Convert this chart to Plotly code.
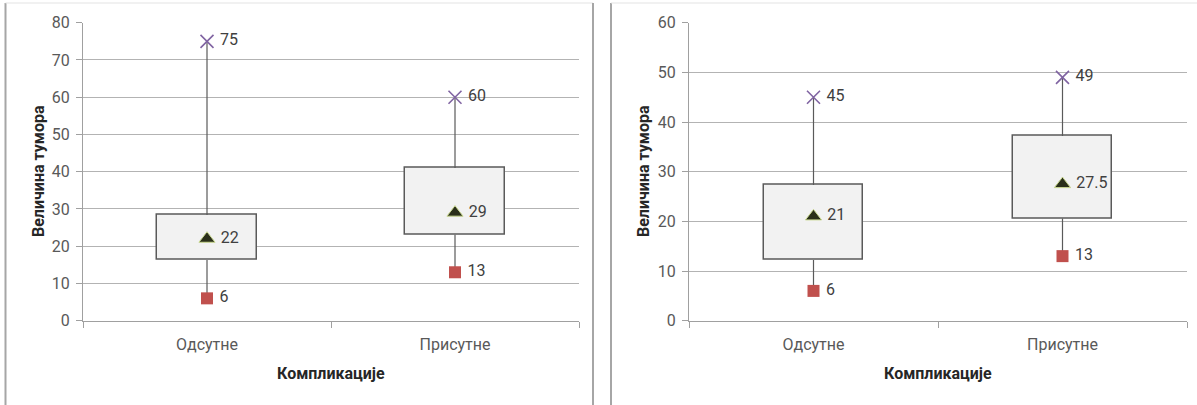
import plotly.graph_objects as go

categories = ["Одсутне", "Присутне"]

# left chart
left_q1 = [16.3, 23.1]
left_q3 = [28.4, 41.0]
left_min = [6, 13]
left_max = [75, 60]
left_mid = [22, 29]

# right chart
right_q1 = [12.2, 20.6]
right_q3 = [27.3, 37.2]
right_min = [6, 13]
right_max = [45, 49]
right_mid = [21, 27.5]

y_title = "Величина тумора"
x_title = "Компликације"

FONT = "Roboto, Noto Sans, sans-serif"
W, H = 1197, 405
TICK_COL = "#595959"
TEXT_COL = "#404040"
NB = "\u00a0"

fig = go.Figure()


def add_chart(xa, ya, q1, q3, mn, mx, mid):
    xref = "x" if xa == "xaxis" else "x2"
    yref = "y" if ya == "yaxis" else "y2"
    # box body
    fig.add_trace(go.Bar(
        x=categories, y=[b - a for a, b in zip(q1, q3)], base=q1, width=0.4,
        marker=dict(color="#F2F2F2", line=dict(color="#5A5A5A", width=1.5)),
        xaxis=xref, yaxis=yref, showlegend=False, hoverinfo="skip"))
    # whiskers
    wx, wy = [], []
    for c, a, b, lo, hi in zip(categories, q1, q3, mn, mx):
        wx += [c, c, None, c, c, None]
        wy += [lo, a, None, b, hi, None]
    fig.add_trace(go.Scatter(
        x=wx, y=wy, mode="lines", line=dict(color="#5A5A5A", width=1.2),
        xaxis=xref, yaxis=yref, showlegend=False, hoverinfo="skip"))
    lab_font = dict(family=FONT, size=16, color=TEXT_COL)
    # max
    fig.add_trace(go.Scatter(
        x=categories, y=mx, mode="markers+text", text=[f"{NB}{v:g}" for v in mx],
        textposition="middle right", textfont=lab_font,
        marker=dict(symbol="x-thin", size=13, line=dict(color="#8064A2", width=1.6)),
        xaxis=xref, yaxis=yref, showlegend=False, cliponaxis=False))
    # min
    fig.add_trace(go.Scatter(
        x=categories, y=mn, mode="markers+text", text=[f"{NB}{v:g}" for v in mn],
        textposition="middle right", textfont=lab_font,
        marker=dict(symbol="square", size=12, color="#C0504D", line=dict(width=0)),
        xaxis=xref, yaxis=yref, showlegend=False, cliponaxis=False))
    # middle
    fig.add_trace(go.Scatter(
        x=categories, y=mid, mode="markers+text", text=[f"{NB}{v:g}" for v in mid],
        textposition="middle right", textfont=lab_font,
        marker=dict(symbol="triangle-up", size=14, color="#2A2F1A",
                    line=dict(color="#C9D88F", width=1)),
        xaxis=xref, yaxis=yref, showlegend=False, cliponaxis=False))


add_chart("xaxis", "yaxis", left_q1, left_q3, left_min, left_max, left_mid)
add_chart("xaxis2", "yaxis2", right_q1, right_q3, right_min, right_max, right_mid)

y0 = 1 - 320.7 / H
y1 = 1 - 22.7 / H

xcommon = dict(type="category", categoryorder="array", categoryarray=categories,
               range=[-0.5, 1.5], tickson="boundaries", ticks="outside", ticklen=6,
               tickcolor="#A0A0A0", showline=True, linecolor="#A0A0A0", linewidth=1.2,
               showgrid=False, zeroline=False, fixedrange=True, ticklabelstandoff=9,
               tickfont=dict(family=FONT, size=16, color=TICK_COL), automargin=False)
ycommon = dict(ticks="outside", ticklen=6, tickcolor="#A0A0A0", showline=True,
               linecolor="#A0A0A0", linewidth=1.2, showgrid=True, gridcolor="#B3B3B3",
               gridwidth=1.3, zeroline=False, fixedrange=True, ticklabelstandoff=3,
               tickfont=dict(family=FONT, size=16, color=TICK_COL), automargin=False)

fig.update_layout(
    width=W, height=H, margin=dict(l=0, r=0, t=0, b=0),
    paper_bgcolor="white", plot_bgcolor="white", bargap=0,
    xaxis=dict(xcommon, domain=[83 / W, 579 / W], anchor="y"),
    yaxis=dict(ycommon, domain=[y0, y1], range=[0, 80], dtick=10, anchor="x"),
    xaxis2=dict(xcommon, domain=[689 / W, 1187 / W], anchor="y2"),
    yaxis2=dict(ycommon, domain=[y0, y1], range=[0, 60], dtick=10, anchor="x2"),
    font=dict(family=FONT),
)

title_font = dict(family=FONT, size=16, color="#262626")
for xc, xt in [(38, 331), (643, 938)]:
    fig.add_annotation(text=f"<b>{y_title}</b>", textangle=-90, x=xc / W, y=1 - 171 / H,
                       xref="paper", yref="paper", showarrow=False, font=title_font,
                       xanchor="center", yanchor="middle")
    fig.add_annotation(text=f"<b>{x_title}</b>", x=xt / W, y=1 - 373 / H,
                       xref="paper", yref="paper", showarrow=False, font=title_font,
                       xanchor="center", yanchor="middle")

# chart frames
frame = dict(type="line", xref="paper", yref="paper")
shapes = [
    dict(frame, x0=5.5 / W, x1=5.5 / W, y0=0, y1=1 - 3 / H, line=dict(color="#A6A6A6", width=2)),
    dict(frame, x0=5.5 / W, x1=593 / W, y0=1 - 3 / H, y1=1 - 3 / H, line=dict(color="#E3E3E3", width=1)),
    dict(frame, x0=593 / W, x1=593 / W, y0=0, y1=1 - 3 / H, line=dict(color="#A6A6A6", width=2)),
    dict(frame, x0=611 / W, x1=611 / W, y0=0, y1=1 - 3 / H, line=dict(color="#A6A6A6", width=2)),
    dict(frame, x0=611 / W, x1=1, y0=1 - 3 / H, y1=1 - 3 / H, line=dict(color="#E3E3E3", width=1)),
]
fig.update_layout(shapes=shapes)

fig.write_html(
    "out.html",
    config={"displayModeBar": False},
    post_script="document.body.style.margin='0';document.body.style.padding='0';"
                "document.body.style.overflow='hidden';",
)
